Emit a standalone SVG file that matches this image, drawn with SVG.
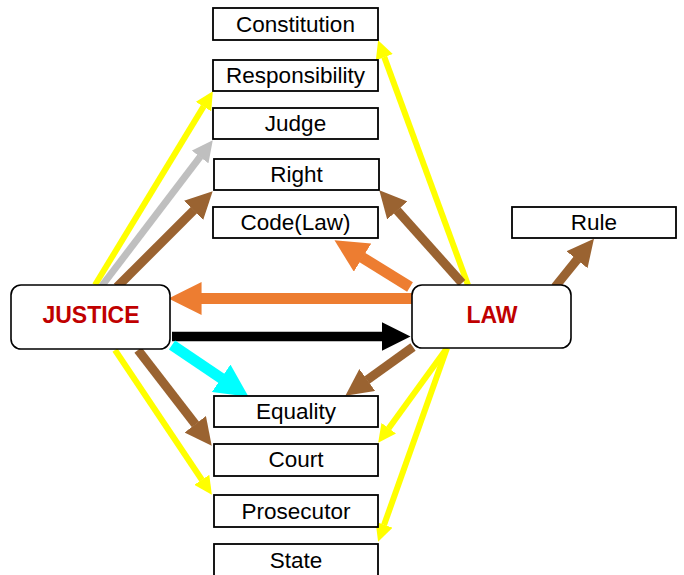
<svg xmlns="http://www.w3.org/2000/svg" width="684" height="575" viewBox="0 0 684 575">
<style>
.box{fill:#fff;stroke:#000;stroke-width:1.8}
.hub{fill:#fff;stroke:#000;stroke-width:1.6}
.lbl{font-family:"Liberation Sans",Arial,sans-serif;font-size:22.5px;fill:#000;text-anchor:middle}
.hl{font-family:"Liberation Sans",Arial,sans-serif;font-size:23px;font-weight:bold;fill:#C00000;text-anchor:middle}
.c{fill:none;stroke-linecap:butt}
.y{stroke:#FFFF00;stroke-width:6;marker-end:url(#mY)}
.g{stroke:#BFBFBF;stroke-width:7;marker-end:url(#mG)}
.b{stroke:#9A6331;stroke-width:9;marker-end:url(#mB)}
.o{stroke:#ED7D31;stroke-width:11;marker-end:url(#mO)}
.k{stroke:#000;stroke-width:9.5;marker-end:url(#mK)}
.cy{stroke:#00FFFF;stroke-width:11;marker-end:url(#mC)}
</style>
<defs>
<marker id="mY" viewBox="0 0 3 3" refX="0.05" refY="1.5" markerWidth="3" markerHeight="3" orient="auto"><path d="M0,0 L3,1.5 L0,3 Z" fill="#FFFF00"/></marker>
<marker id="mG" viewBox="0 0 3 3" refX="0.05" refY="1.5" markerWidth="3" markerHeight="3" orient="auto"><path d="M0,0 L3,1.5 L0,3 Z" fill="#BFBFBF"/></marker>
<marker id="mB" viewBox="0 0 3 3" refX="0.05" refY="1.5" markerWidth="3" markerHeight="3" orient="auto"><path d="M0,0 L3,1.5 L0,3 Z" fill="#9A6331"/></marker>
<marker id="mO" viewBox="0 0 3 3" refX="0.05" refY="1.5" markerWidth="3" markerHeight="3" orient="auto"><path d="M0,0 L3,1.5 L0,3 Z" fill="#ED7D31"/></marker>
<marker id="mK" viewBox="0 0 3 3" refX="0.05" refY="1.5" markerWidth="3" markerHeight="3" orient="auto"><path d="M0,0 L3,1.5 L0,3 Z" fill="#000"/></marker>
<marker id="mC" viewBox="0 0 3 3" refX="0.05" refY="1.5" markerWidth="3" markerHeight="3" orient="auto"><path d="M0,0 L3,1.5 L0,3 Z" fill="#00FFFF"/></marker>
</defs>
<rect width="684" height="575" fill="#fff"/>
<g id="connectors">
<line class="c y" x1="95" y1="285" x2="203.65" y2="106.38"/>
<line class="c g" x1="101" y1="287" x2="200.27" y2="156.7"/>
<line class="c b" x1="117" y1="287" x2="193.91" y2="210.09"/>
<line class="c y" x1="468" y1="285" x2="384.21" y2="56.9"/>
<line class="c b" x1="462" y1="283" x2="396.98" y2="210.14"/>
<line class="c o" x1="410" y1="287" x2="362.07" y2="257.36"/>
<line class="c b" x1="555" y1="287" x2="577.28" y2="259.37"/>
<line class="c o" x1="412" y1="298.5" x2="201" y2="298.5"/>
<line class="c k" x1="172" y1="336.5" x2="382.5" y2="336.5"/>
<line class="c cy" x1="172" y1="345" x2="221.65" y2="378.53"/>
<line class="c b" x1="138" y1="350" x2="195.51" y2="424.61"/>
<line class="c y" x1="115" y1="350" x2="201.99" y2="480.04"/>
<line class="c b" x1="413" y1="347" x2="366.91" y2="380.21"/>
<line class="c y" x1="447" y1="348" x2="388.58" y2="428.43"/>
<line class="c y" x1="447" y1="348" x2="384.03" y2="525.04"/>
</g>
<g id="justice"><rect class="hub" x="11" y="285" width="159" height="64" rx="10"/><text class="hl" x="91" y="323">JUSTICE</text></g>
<g id="law"><rect class="hub" x="412" y="285" width="159" height="63" rx="10"/><text class="hl" x="492" y="323">LAW</text></g>
<g id="constitution"><rect class="box" x="213" y="8" width="165" height="32"/><text class="lbl" x="295.5" y="32">Constitution</text></g>
<g id="responsibility"><rect class="box" x="213" y="60" width="165" height="31"/><text class="lbl" x="295.5" y="83">Responsibility</text></g>
<g id="judge"><rect class="box" x="213" y="108" width="165" height="31"/><text class="lbl" x="295.5" y="131">Judge</text></g>
<g id="right"><rect class="box" x="214" y="159" width="165" height="31"/><text class="lbl" x="296.5" y="182">Right</text></g>
<g id="code"><rect class="box" x="213" y="207" width="165" height="31"/><text class="lbl" x="295.5" y="230">Code(Law)</text></g>
<g id="rule"><rect class="box" x="512" y="207" width="164" height="31"/><text class="lbl" x="594" y="230">Rule</text></g>
<g id="equality"><rect class="box" x="214" y="396" width="164" height="31"/><text class="lbl" x="296" y="419">Equality</text></g>
<g id="court"><rect class="box" x="214" y="444" width="164" height="32"/><text class="lbl" x="296" y="467">Court</text></g>
<g id="prosecutor"><rect class="box" x="214" y="495" width="164" height="32"/><text class="lbl" x="296" y="519">Prosecutor</text></g>
<g id="state"><rect class="box" x="214" y="544" width="164" height="34"/><text class="lbl" x="296" y="568">State</text></g>
</svg>
